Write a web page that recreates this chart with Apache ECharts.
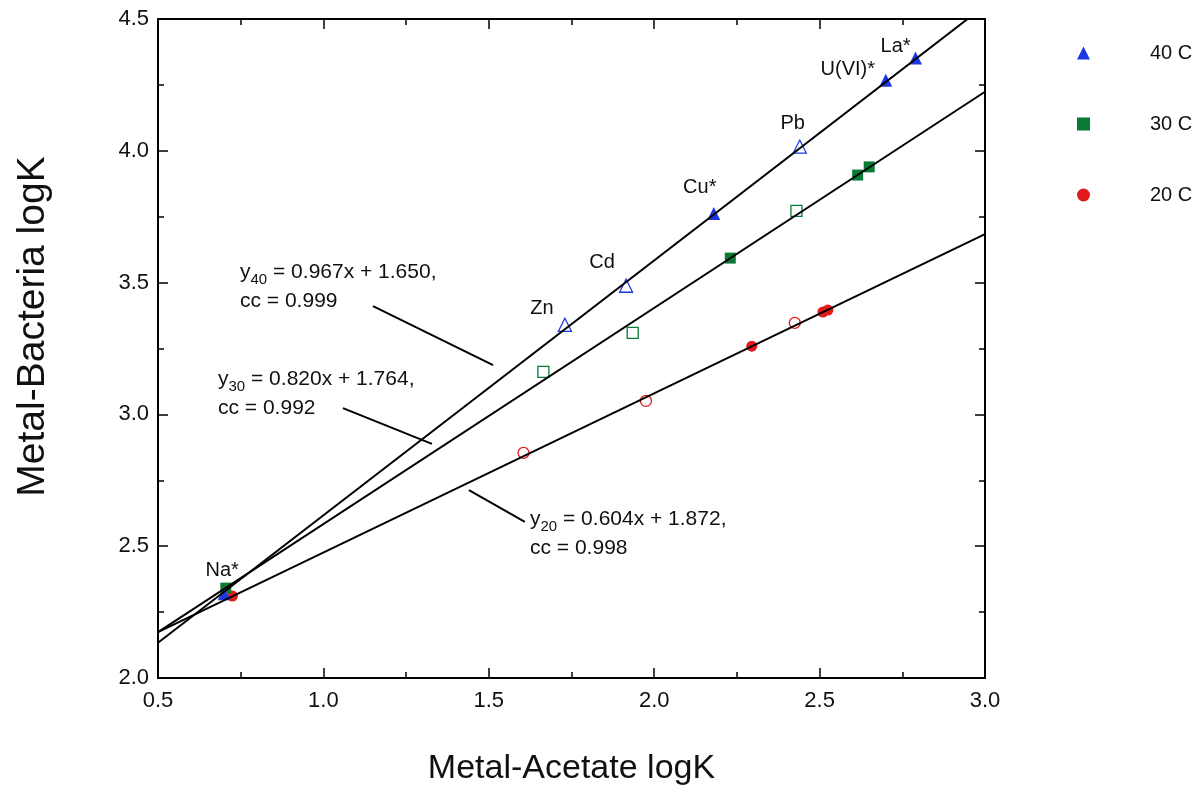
<!DOCTYPE html>
<html>
<head>
<meta charset="utf-8">
<script src="https://cdn.jsdelivr.net/npm/echarts@6/dist/echarts.min.js"></script>
<style>html,body{margin:0;padding:0;background:#fff}#c{width:1203px;height:789px}</style>
</head>
<body>
<div id="c"></div>
<script>
// ---- data ----
const seriesNames = ['40 C', '30 C', '20 C'];
const x40 = [0.70, 1.73, 1.915, 2.18, 2.44, 2.70, 2.79];
const y40 = [2.32, 3.34, 3.488, 3.762, 4.016, 4.268, 4.352];
const filled40 = [1, 0, 0, 1, 0, 1, 1];
const names40 = ['Na*', 'Zn', 'Cd', 'Cu*', 'Pb', 'U(VI)*', 'La*'];
const x30 = [0.705, 1.665, 1.935, 2.23, 2.43, 2.615, 2.65];
const y30 = [2.341, 3.161, 3.309, 3.593, 3.772, 3.908, 3.939];
const filled30 = [1, 0, 0, 1, 0, 1, 1];
const x20 = [0.725, 1.605, 1.975, 2.295, 2.425, 2.51, 2.525];
const y20 = [2.311, 2.854, 3.051, 3.259, 3.347, 3.388, 3.396];
const filled20 = [1, 0, 0, 1, 0, 1, 1];
const fitSlope = [0.967, 0.820, 0.604];
const fitIntercept = [1.650, 1.764, 1.872];
const fitCC = ['0.999', '0.992', '0.998'];
const fitSub = ['40', '30', '20'];
const fitXRange = [0.5, 3.0];
// leader lines from equation labels to the fit lines (data coords)
const leaderX = [[1.150, 1.513], [1.059, 1.328], [1.440, 1.609]];
const leaderY = [[3.411, 3.187], [3.024, 2.888], [2.713, 2.592]];
const xTicks = [0.5, 1.0, 1.5, 2.0, 2.5, 3.0];
const yTicks = [2.0, 2.5, 3.0, 3.5, 4.0, 4.5];

// ---- styles ----
const colors = ['#1c38e6', '#0b7a35', '#e31a1c'];
const symbols = ['triangle', 'rect', 'circle'];
const symSizes = [13, 11, 11];
const FONT = '"Liberation Sans", Arial, Helvetica, sans-serif';
const labelOffsets = [[-2, -23], [-23, -16], [-24, -23], [-14, -26], [-7, -23], [-38, -11], [-20, -12]];
const eqPos = [[240, 262], [218, 369], [530, 509]];

const xs = [x40, x30, x20], ys = [y40, y30, y20], fills = [filled40, filled30, filled20];

const chart = echarts.init(document.getElementById('c'), null, {renderer: 'canvas'});
const series = [];
for (let s = 0; s < 3; s++) {
  const data = xs[s].map((x, i) => {
    const d = {value: [x, ys[s][i]]};
    if (!fills[s][i]) d.itemStyle = {color: '#ffffff', borderColor: colors[s], borderWidth: 1.3};
    if (s === 0) {
      d.label = {show: true, formatter: names40[i], position: 'inside', offset: labelOffsets[i],
        color: '#111', fontSize: 20, fontFamily: FONT};
    }
    return d;
  });
  series.push({
    name: seriesNames[s], type: 'scatter', symbol: symbols[s], symbolSize: symSizes[s],
    itemStyle: {color: colors[s], opacity: 1}, data: data, z: 3 - s, emphasis: {disabled: true}
  });
}
for (let s = 0; s < 3; s++) {
  series.push({
    type: 'line', silent: true, symbol: 'none', z: 5, clip: true,
    lineStyle: {color: '#000', width: 2},
    data: fitXRange.map(x => [x, fitSlope[s] * x + fitIntercept[s]])
  });
  series.push({
    type: 'line', silent: true, symbol: 'none', z: 5,
    lineStyle: {color: '#000', width: 2},
    data: leaderX[s].map((x, i) => [x, leaderY[s][i]])
  });
}

const graphics = [];
for (let s = 0; s < 3; s++) {
  graphics.push({
    type: 'text', left: eqPos[s][0], top: eqPos[s][1], z: 10,
    style: {
      text: '{b|y}{s|' + fitSub[s] + '}{b| = ' + fitSlope[s].toFixed(3) + 'x + ' + fitIntercept[s].toFixed(3) + ',}\n{b|cc = ' + fitCC[s] + '}',
      rich: {
        b: {fontSize: 21, fontFamily: FONT, fill: '#111', lineHeight: 29, verticalAlign: 'bottom'},
        s: {fontSize: 15, fontFamily: FONT, fill: '#111', lineHeight: 29, verticalAlign: 'bottom', padding: [0, 0, -4, 0]}
      }
    }
  });
}

const axisCommon = {
  type: 'value', min: 0.5, max: 3.0, interval: 0.5,
  axisLine: {show: true, onZero: false, lineStyle: {color: '#000', width: 2}},
  axisTick: {show: true, inside: true, length: 10, lineStyle: {color: '#000', width: 1.5}},
  minorTick: {show: true, splitNumber: 2, length: 6, lineStyle: {color: '#000', width: 1.5}},
  splitLine: {show: false}, minorSplitLine: {show: false}
};

chart.setOption({
  animation: false,
  backgroundColor: '#fff',
  grid: {left: 158, right: 218, top: 19, bottom: 111, containLabel: false, outerBoundsMode: 'none'},
  legend: {
    orient: 'vertical', left: 1072, top: 38, itemWidth: 13, itemHeight: 13, itemGap: 51,
    selectedMode: false,
    textStyle: {fontSize: 20, fontFamily: FONT, color: '#111', padding: [0, 0, 0, 55]},
    data: seriesNames.map((n, i) => ({name: n, icon: symbols[i]}))
  },
  xAxis: [
    Object.assign({}, axisCommon, {
      position: 'bottom', name: 'Metal-Acetate logK', nameLocation: 'middle', nameGap: 74,
      nameTextStyle: {fontSize: 34, fontFamily: FONT, color: '#111'},
      axisLabel: {margin: 12, fontSize: 22, fontFamily: FONT, color: '#111', formatter: v => xTicks.includes(+v.toFixed(1)) ? v.toFixed(1) : ''}
    }),
    Object.assign({}, axisCommon, {position: 'top', axisLabel: {show: false}})
  ],
  yAxis: [
    Object.assign({}, axisCommon, {
      min: 2.0, max: 4.5, position: 'left', name: 'Metal-Bacteria logK', nameLocation: 'middle', nameGap: 105,
      nameRotate: 90,
      nameTextStyle: {fontSize: 39, fontFamily: FONT, color: '#111', padding: [0, 0, 0, 44]},
      axisLabel: {margin: 9, fontSize: 22, fontFamily: FONT, color: '#111', formatter: v => yTicks.includes(+v.toFixed(1)) ? v.toFixed(1) : ''}
    }),
    Object.assign({}, axisCommon, {min: 2.0, max: 4.5, position: 'right', axisLabel: {show: false}})
  ],
  series: series,
  graphic: graphics
});
</script>
</body>
</html>
